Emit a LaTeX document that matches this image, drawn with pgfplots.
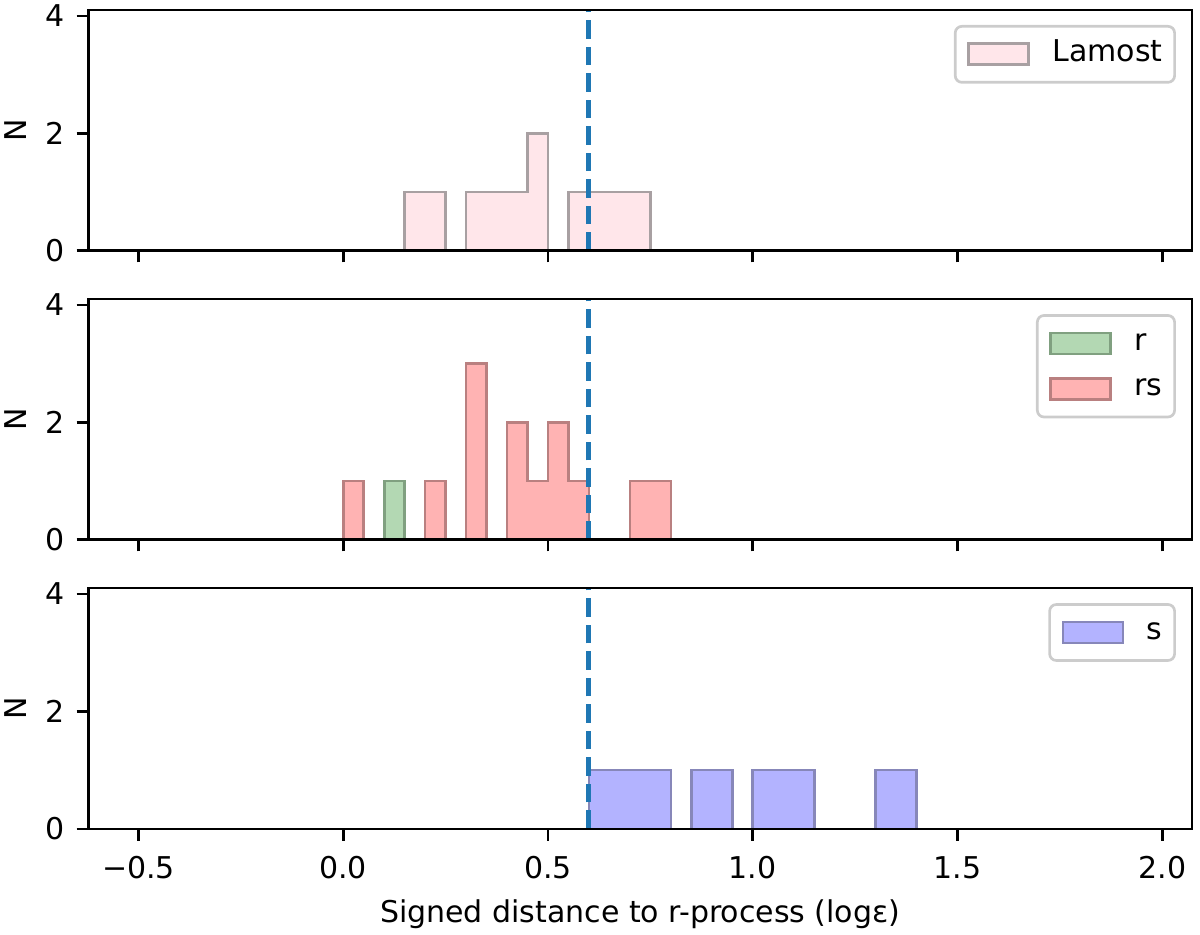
\documentclass[border=0pt]{standalone}
\usepackage{fontspec}
\setmainfont{DejaVu Sans}
\usepackage{pgfplots}
\pgfplotsset{compat=1.18}
\definecolor{lamostfill}{RGB}{255,230,234}
\definecolor{lamostedge}{RGB}{168,160,162}
\definecolor{rfill}{RGB}{179,216,179}
\definecolor{redge}{RGB}{128,160,128}
\definecolor{rsfill}{RGB}{255,179,179}
\definecolor{rsedge}{RGB}{185,128,128}
\definecolor{sfill}{RGB}{179,179,255}
\definecolor{sedge}{RGB}{135,135,185}
\definecolor{mplblue}{HTML}{1F77B4}
\pgfplotsset{
  panel/.style={
    width=331.1pt, height=72.2pt, scale only axis,
    xmin=-0.6225, xmax=2.0725, ymin=0, ymax=4.1,
    axis on top,
    axis line style={line width=0.8pt},
    tick style={line width=0.8pt, black},
    major tick length=3.5pt,
    tick align=outside,
    tick pos=left,
    xtick={-0.5,0,0.5,1,1.5,2},
    ytick={0,2,4},
    yticklabels={0,2,4},
    minor tick num=0,
    tick label style={font=\fontsize{9}{10.8}\selectfont},
    xticklabel style={yshift=-1.2pt},
    every axis y label/.style={at={(axis description cs:0,0.5)}, xshift=-21.9pt, rotate=90, anchor=center, font=\fontsize{9}{10.8}\selectfont},
    ylabel={N},
    legend image code/.code={\draw[#1, sharp corners] (0pt,-3.15pt) rectangle (18pt,3.15pt);},
    legend style={
      at={(rel axis cs:1,1)}, anchor=north east, xshift=-4.8pt, yshift=-4.5pt,
      draw=black!20, line width=0.8pt, rounded corners=2pt, fill=white,
      font=\fontsize{9}{10.8}\selectfont,
      inner xsep=3.6pt, inner ysep=3.7pt, row sep=4.25pt,
      nodes={inner sep=0pt, text height=6.8pt, text depth=2.6pt},
      cells={anchor=west},
      /tikz/every odd column/.append style={column sep=6.8pt},
    },
  },
  hist/.style={const plot, line width=0.8pt},
  vline/.style={forget plot, mplblue, line width=1.5pt, dash pattern=on 5.55pt off 2.4pt},
}
\begin{document}
\begin{tikzpicture}
\useasboundingbox (0pt,0pt) rectangle (360pt,-280.5pt);
% top panel
\begin{axis}[panel, at={(26.49pt,-3.0pt)}, anchor=north west, xticklabels={}]
\addplot[hist, fill=lamostfill, draw=lamostedge] coordinates {
(-0.5,0) (0.15,1) (0.25,0) (0.30,1) (0.45,2) (0.50,0) (0.55,1) (0.75,0) (1.95,0)
} \closedcycle;
\addlegendentry{Lamost}
\addplot[vline] coordinates {(0.6,0) (0.6,4.1)};
\end{axis}
% middle panel
\begin{axis}[panel, at={(26.49pt,-89.75pt)}, anchor=north west, xticklabels={}]
\addplot[hist, fill=rfill, draw=redge] coordinates {
(-0.5,0) (0.10,1) (0.15,0) (1.95,0)
} \closedcycle;
\addlegendentry{r}
\addplot[hist, fill=rsfill, draw=rsedge] coordinates {
(-0.5,0) (0.0,1) (0.05,0) (0.20,1) (0.25,0) (0.30,3) (0.35,0) (0.40,2) (0.45,1) (0.50,2) (0.55,1) (0.60,0) (0.70,1) (0.80,0) (1.95,0)
} \closedcycle;
\addlegendentry{rs}
\addplot[vline] coordinates {(0.6,0) (0.6,4.1)};
\end{axis}
% bottom panel
\begin{axis}[panel, at={(26.49pt,-176.45pt)}, anchor=north west,
  xticklabels={−0.5,0.0,0.5,1.0,1.5,2.0}]
\addplot[hist, fill=sfill, draw=sedge] coordinates {
(-0.5,0) (0.60,1) (0.80,0) (0.85,1) (0.95,0) (1.00,1) (1.15,0) (1.30,1) (1.40,0) (1.95,0)
} \closedcycle;
\addlegendentry{s}
\addplot[vline] coordinates {(0.6,0) (0.6,4.1)};
\end{axis}
\node[anchor=base, inner sep=0pt, font=\fontsize{9}{10.8}\selectfont] at (192.04pt,-276.9pt) {Signed distance to r-process (logε)};
\end{tikzpicture}
\end{document}
